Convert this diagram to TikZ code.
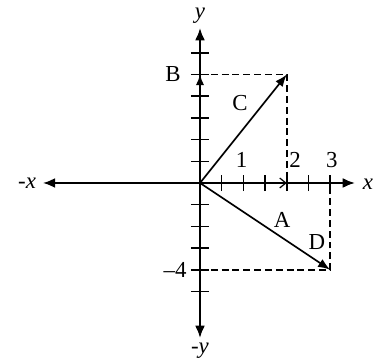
\documentclass[tikz,border=0pt]{standalone}
\usepackage{fontspec}
\setmainfont{Liberation Serif}
\usepackage{tikz}
\usetikzlibrary{arrows.meta}

\begin{document}
\begin{tikzpicture}[x=0.5cm, y=0.5cm,
  axis/.style={line width=1.3pt, -{Latex[length=8pt, width=6.5pt]}},
  vec/.style={line width=1.1pt, -{Latex[length=8pt, width=6pt]}},
  guide/.style={line width=1pt, dash pattern=on 4.5pt off 2.6pt},
  tick/.style={line width=1pt},
  lbl/.style={font=\fontsize{15}{18}\selectfont, inner sep=0pt}
]
  \useasboundingbox (-9.217,-8.341) rectangle (8.433,8.433);

  % Origin and end points
  \coordinate (O) at (0,0);
  \coordinate (xpos) at (7.14,0);
  \coordinate (xneg) at (-7.24,0);
  \coordinate (ypos) at (0,7.14);
  \coordinate (yneg) at (0,-7.14);
  \coordinate (Cend) at (4,5);
  \coordinate (Dend) at (6,-4);
  \coordinate (Bpt) at (0,5);
  \coordinate (Cx) at (4,0);
  \coordinate (Dx) at (6,0);
  \coordinate (Dy) at (0,-4);

  % Axes
  \draw[axis] (O) -- (xpos);
  \draw[axis] (O) -- (xneg);
  \draw[axis] (O) -- (ypos);
  \draw[axis] (O) -- (yneg);

  % Ticks
  \foreach \i in {1,...,6} \draw[tick] (\i,-0.37) -- (\i,0.37);
  \foreach \i in {1,...,6} \draw[tick] (-0.42,\i) -- (0.42,\i);
  \foreach \i in {1,...,5} \draw[tick] (-0.42,-\i) -- (0.42,-\i);

  % Dashed guides
  \draw[guide] (Bpt) -- (Cend) -- (Cx);
  \draw[guide] (Dy) -- (Dend) -- (Dx);

  % Components
  \draw[line width=1.1pt, -{Latex[length=7pt, width=5.5pt]}] (0,4.3) -- (Bpt);
  \draw[line width=0.8pt, -{Straight Barb[length=4pt, width=6.5pt]}] (3.5,0) -- (Cx);

  % Vectors
  \draw[vec] (O) -- (Cend);
  \draw[vec] (O) -- (Dend);

  % Labels
  \node[lbl] (lx) at (7.74,-0.05) {\textit{x}};
  \node[lbl] (lxn) at (-7.97,0) {-\textit{x}};
  \node[lbl] (ly) at (0,7.72) {\textit{y}};
  \node[lbl] (lyn) at (0,-7.72) {-\textit{y}};
  \node[lbl] (lB) at (-1.24,5) {B};
  \node[lbl] (lm4) at (-1.15,-4) {\textendash4};
  \node[lbl] (lC) at (1.84,3.69) {C};
  \node[lbl] (lA) at (3.78,-1.7) {A};
  \node[lbl] (lD) at (5.39,-2.72) {D};
  \node[lbl] (l1) at (1.92,1.06) {1};
  \node[lbl] (l2) at (4.38,1.06) {2};
  \node[lbl] (l3) at (6.07,1.06) {3};
\end{tikzpicture}
\end{document}
